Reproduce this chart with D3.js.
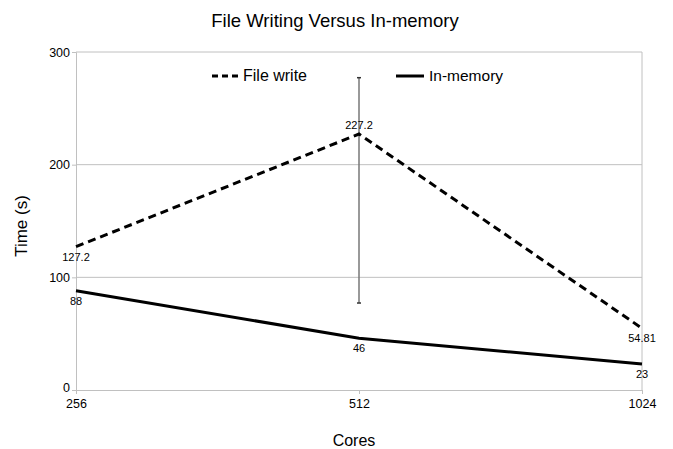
<!DOCTYPE html>
<html><head><meta charset="utf-8">
<script src="https://cdn.jsdelivr.net/npm/d3@7"></script>
<style>body{margin:0;background:#fff}svg{display:block}text{font-family:"Liberation Sans",Arial,sans-serif;fill:#000}</style>
</head><body>
<svg id="c" width="673" height="449"></svg>
<script>
const categories = ["256", "512", "1024"];
const fileWrite = [127.2, 227.2, 54.81];
const inMemory = [88, 46, 23];
const fileWriteErrorPlus = [null, 50, null];
const fileWriteErrorMinus = [null, 150, null];
const yTicks = [0, 100, 200, 300];

const svg = d3.select("#c");
const m = {l: 76, r: 642, t: 52, b: 390};
const x = d3.scalePoint().domain(categories).range([m.l, m.r]);
const y = d3.scaleLinear().domain([0, 300]).range([m.b, m.t]);
const grid = "#c0c0c0";

// gridlines
svg.append("g").selectAll("line").data(yTicks.filter(d => d > 0)).join("line")
  .attr("x1", m.l).attr("x2", m.r).attr("y1", d => y(d)).attr("y2", d => y(d))
  .attr("stroke", grid).attr("stroke-width", 1);
// right border
svg.append("line").attr("x1", m.r).attr("x2", m.r).attr("y1", m.t).attr("y2", m.b).attr("stroke", grid);

// y axis
const ya = svg.append("g").attr("transform", `translate(${m.l},0)`)
  .call(d3.axisLeft(y).tickValues(yTicks).tickSize(4).tickPadding(2));
ya.select(".domain").attr("stroke", grid);
ya.selectAll(".tick line").attr("stroke", grid);
ya.selectAll("text").style("font-size", "12.5px").style("fill", "#000");
ya.selectAll(".tick").filter(d => d === 0).select("text").attr("dy", "0.1em");
// x axis
const xa = svg.append("g").attr("transform", `translate(0,${m.b})`)
  .call(d3.axisBottom(x).tickSize(4).tickPadding(5));
xa.select(".domain").attr("stroke", grid);
xa.selectAll(".tick line").attr("stroke", grid);
xa.selectAll("text").style("font-size", "12.5px").style("fill", "#000");

// error bar
categories.forEach((c, i) => {
  if (fileWriteErrorPlus[i] == null) return;
  const cx = x(c), y1 = y(fileWrite[i] + fileWriteErrorPlus[i]), y2 = y(fileWrite[i] - fileWriteErrorMinus[i]);
  svg.append("line").attr("x1", cx).attr("x2", cx).attr("y1", y1).attr("y2", y2).attr("stroke", "#777").attr("stroke-width", 1.5);
  [y1, y2].forEach(yy => svg.append("line").attr("x1", cx - 2).attr("x2", cx + 2).attr("y1", yy).attr("y2", yy).attr("stroke", "#333").attr("stroke-width", 1.5));
});

const line = d3.line().x((d, i) => x(categories[i])).y(d => y(d));
svg.append("path").datum(fileWrite).attr("d", line).attr("fill", "none")
  .attr("stroke", "#000").attr("stroke-width", 3).attr("stroke-dasharray", "8,5");
svg.append("path").datum(inMemory).attr("d", line).attr("fill", "none")
  .attr("stroke", "#000").attr("stroke-width", 3);

// data labels
const lab = svg.append("g").style("font-size", "11px").attr("text-anchor", "middle");
fileWrite.forEach((v, i) => {
  const above = i === 1;
  lab.append("text").attr("x", x(categories[i])).attr("y", y(v) + (above ? -5 : 14)).text(String(v));
});
inMemory.forEach((v, i) => {
  lab.append("text").attr("x", x(categories[i])).attr("y", y(v) + 14).text(String(v));
});

// legend
svg.append("line").attr("x1", 212).attr("x2", 240).attr("y1", 76).attr("y2", 76)
  .attr("stroke", "#000").attr("stroke-width", 3).attr("stroke-dasharray", "6,4");
svg.append("text").attr("x", 243).attr("y", 81).style("font-size", "16px").text("File write");
svg.append("line").attr("x1", 396).attr("x2", 424).attr("y1", 76).attr("y2", 76)
  .attr("stroke", "#000").attr("stroke-width", 3);
svg.append("text").attr("x", 429).attr("y", 81).style("font-size", "15.5px").text("In-memory");

// titles
svg.append("text").attr("x", 335).attr("y", 27).attr("text-anchor", "middle").style("font-size", "18.5px").text("File Writing Versus In-memory");
svg.append("text").attr("x", 354).attr("y", 446).attr("text-anchor", "middle").style("font-size", "16px").text("Cores");
svg.append("text").attr("transform", "translate(27,226) rotate(-90)").attr("text-anchor", "middle").style("font-size", "17px").text("Time (s)");
</script>
</body></html>
